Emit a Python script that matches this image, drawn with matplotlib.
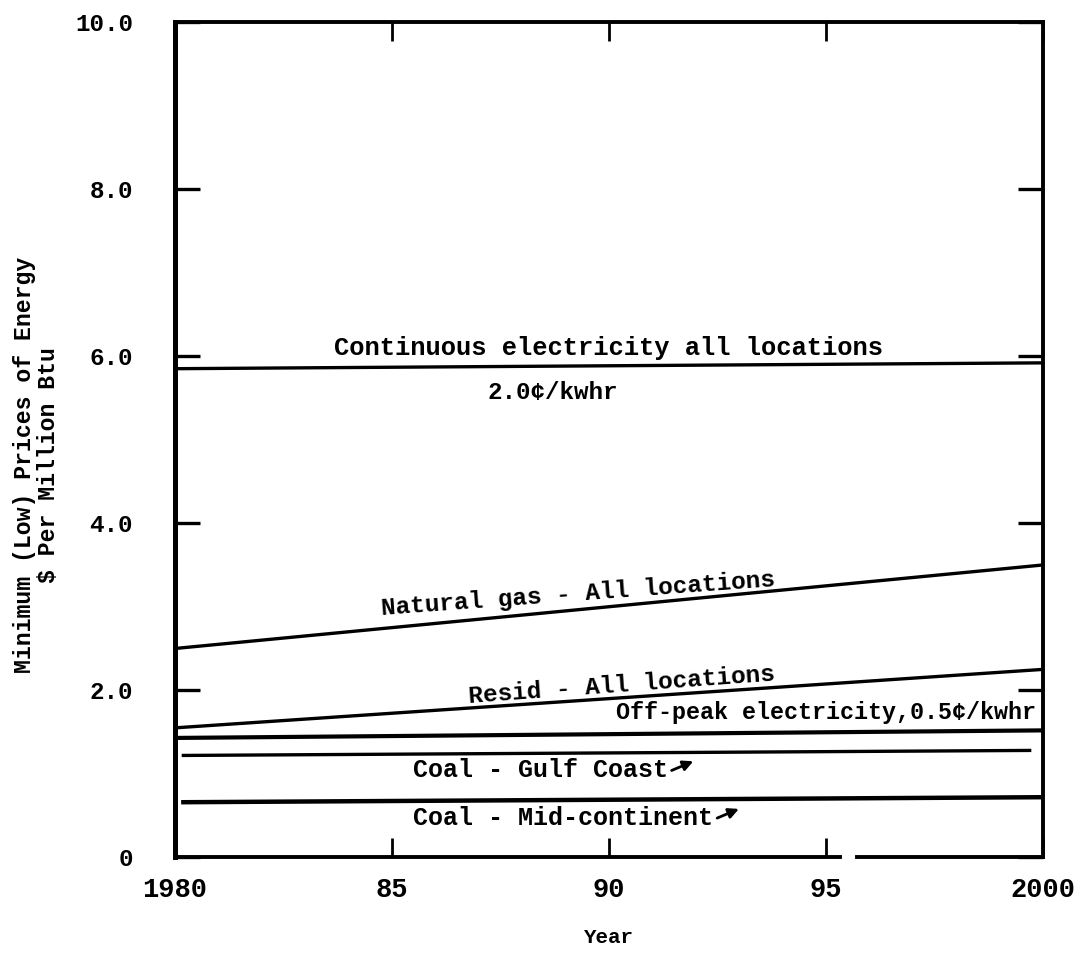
import numpy as np
from matplotlib import pyplot as plt

# series (price, $ per million Btu)
years = [1980, 2000]
continuous_elec = [5.85, 5.92]
natural_gas = [2.50, 3.50]
resid = [1.55, 2.25]
offpeak_elec = [1.43, 1.52]
coal_gulf = [1.22, 1.28]
coal_mid = [0.66, 0.72]

yticks = [0, 2, 4, 6, 8, 10]
ytick_labels = ['0', '2.0', '4.0', '6.0', '8.0', '10.0']
xticks = [1980, 1985, 1990, 1995, 2000]
xtick_labels = ['1980', '85', '90', '95', '2000']

MONO = 'Liberation Mono'

fig = plt.figure(figsize=(10.85, 9.59), dpi=100)
ax = fig.add_axes([0.161, 0.106, 0.800, 0.871])

lw = 2.4
ax.plot(years, continuous_elec, color='black', lw=lw)
ax.plot(years, natural_gas, color='black', lw=lw)
ax.plot(years, resid, color='black', lw=lw)
ax.plot([1980.1, 2000], offpeak_elec, color='black', lw=lw + 0.6)
ax.plot([1980.2, 1999.7], coal_gulf, color='black', lw=lw)
ax.plot([1980.2, 2000], coal_mid, color='black', lw=lw + 0.8)

ax.set_xlim(1980, 2000)
ax.set_ylim(0, 10)

# labels on the lines
txt = dict(family=MONO, fontweight='bold', color='black')
ax.text(1990.0, 6.10, 'Continuous electricity all locations', ha='center', va='center',
        fontsize=18.4, **txt)
ax.text(1988.7, 5.57, '2.0\u00a2/kwhr', ha='center', va='center', fontsize=17.5, **txt)
ax.text(1989.3, 3.15, 'Natural gas - All locations', ha='center', va='center',
        rotation=4.2, rotation_mode='anchor', fontsize=17.6, **txt)
ax.text(1990.3, 2.06, 'Resid - All locations', ha='center', va='center',
        rotation=4.2, rotation_mode='anchor', fontsize=17.6, **txt)
ax.text(1995.0, 1.74, 'Off-peak electricity,0.5\u00a2/kwhr', ha='center', va='center',
        fontsize=16.8, **txt)
ax.text(1985.5, 1.04, 'Coal - Gulf Coast', ha='left', va='center', fontsize=18, **txt)
ax.text(1985.5, 0.47, 'Coal - Mid-continent', ha='left', va='center', fontsize=18, **txt)

arr = dict(arrowstyle='-|>,head_length=0.6,head_width=0.3', color='black', lw=2.0,
           shrinkA=0, shrinkB=0)
ax.annotate('', xy=(1991.95, 1.15), xytext=(1991.45, 1.04), arrowprops=arr)
ax.annotate('', xy=(1993.0, 0.58), xytext=(1992.5, 0.47), arrowprops=arr)

# frame
for side in ['left', 'right', 'top']:
    ax.spines[side].set_linewidth(2.8)
ax.spines['left'].set_linewidth(3.6)
ax.spines['bottom'].set_visible(False)
ax.plot([0, 0.766], [0, 0], transform=ax.transAxes, color='black', lw=2.8, clip_on=False)
ax.plot([0.786, 1.0], [0, 0], transform=ax.transAxes, color='black', lw=2.8, clip_on=False)

ax.set_yticks(yticks)
ax.set_yticklabels(ytick_labels)
ax.set_xticks(xticks)
ax.set_xticklabels(xtick_labels)
ax.tick_params(axis='y', direction='in', length=18, width=2.4, pad=30,
               right=True, labelsize=17.5)
ax.tick_params(axis='x', direction='in', length=14, width=2.0, pad=14,
               top=True, labelsize=19.5)
for lab in ax.get_xticklabels() + ax.get_yticklabels():
    lab.set_family(MONO)
    lab.set_fontweight('bold')

ax.set_xlabel('Year', family=MONO, fontweight='bold', fontsize=15, labelpad=18)
ax.set_ylabel('Minimum (Low) Prices of Energy\n$ Per Million Btu', family=MONO,
              fontweight='bold', fontsize=16.7, linespacing=1.05)
ax.yaxis.set_label_coords(-0.132, 0.47)

plt.savefig('out.png', dpi=100)
